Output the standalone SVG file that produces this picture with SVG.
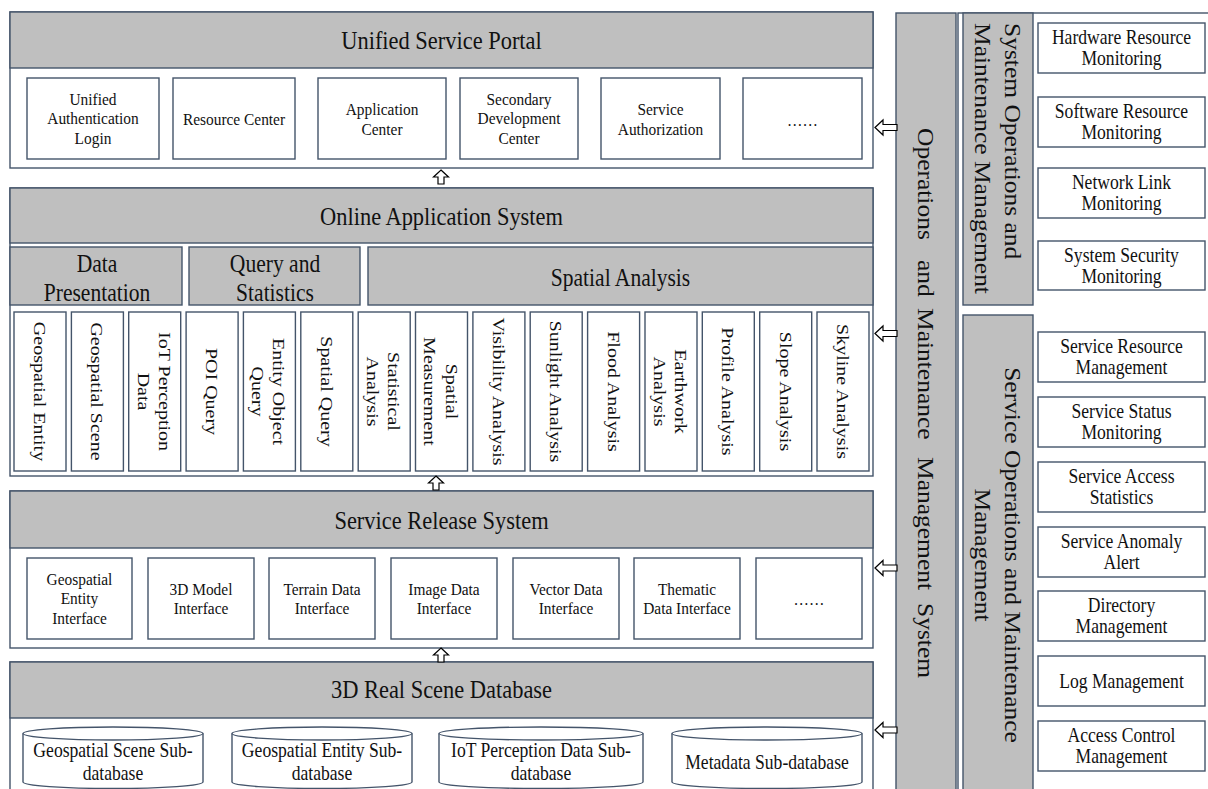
<svg xmlns="http://www.w3.org/2000/svg" width="1208" height="789" viewBox="0 0 1208 789">
<style>
  .box{fill:#fff;stroke:#44546a;stroke-width:1.4}
  .band{fill:#bfbfbf;stroke:#44546a;stroke-width:1.4}
  .arw{fill:#fff;stroke:#000;stroke-width:1.2}
  text{font-family:"Liberation Serif","Times New Roman",serif;fill:#111;text-anchor:middle}
  .hd{font-size:25.5px}
  .sh{font-size:24.5px}
  .bx{font-size:17.5px}
  .rb{font-size:20px}
  .vt{font-size:20px}
  .vb{font-size:25.5px}
  .v,.v tspan{dominant-baseline:central}
  .st{text-anchor:start}
</style>
<defs>
  <path id="upArrow" class="arw" d="M0,-7 L7.5,0 L3,0 L3,7 L-3,7 L-3,0 L-7.5,0 Z"/>
  <path id="leftArrow" class="arw" d="M-11,0 L-3,-7.5 L-3,-3 L11,-3 L11,3 L-3,3 L-3,7.5 Z"/>
</defs>
<rect width="1208" height="789" fill="#fff"/>

<!-- Unified Service Portal -->
<g id="unified-service-portal">
  <rect class="box" x="10" y="12" width="863" height="156"/>
  <rect class="band" x="10" y="12" width="863" height="56"/>
  <text class="hd" transform="matrix(0.88 0 0 1 441.5 48.5)">Unified Service Portal</text>
</g>
<g id="portal-auth-login">
  <rect class="box" x="27" y="78" width="132" height="81"/>
  <text class="bx" transform="matrix(0.88 0 0 1 93 104.5)"><tspan x="0">Unified</tspan><tspan x="0" dy="20">Authentication</tspan><tspan x="0" dy="20">Login</tspan></text>
</g>
<g id="portal-resource-center">
  <rect class="box" x="173" y="78" width="122" height="81"/>
  <text class="bx" transform="matrix(0.88 0 0 1 234 125)">Resource Center</text>
</g>
<g id="portal-application-center">
  <rect class="box" x="318" y="78" width="128" height="81"/>
  <text class="bx" transform="matrix(0.88 0 0 1 382 115)"><tspan x="0">Application</tspan><tspan x="0" dy="20">Center</tspan></text>
</g>
<g id="portal-secondary-dev">
  <rect class="box" x="460" y="78" width="118" height="81"/>
  <text class="bx" transform="matrix(0.88 0 0 1 519 104.5)"><tspan x="0">Secondary</tspan><tspan x="0" dy="20">Development</tspan><tspan x="0" dy="20">Center</tspan></text>
</g>
<g id="portal-service-auth">
  <rect class="box" x="601" y="78" width="119" height="81"/>
  <text class="bx" transform="matrix(0.88 0 0 1 660.5 115)"><tspan x="0">Service</tspan><tspan x="0" dy="20">Authorization</tspan></text>
</g>
<g id="portal-more">
  <rect class="box" x="743" y="78" width="119" height="81"/>
  <text class="bx" transform="matrix(0.88 0 0 1 802.5 126)">……</text>
</g>

<!-- Online Application System -->
<g id="online-application-system">
  <rect class="box" x="10" y="188" width="863" height="288"/>
  <rect class="band" x="10" y="188" width="863" height="55"/>
  <text class="hd" transform="matrix(0.88 0 0 1 441.5 225)">Online Application System</text>
</g>
<g id="data-presentation">
  <rect class="band" x="10" y="247" width="172" height="58"/>
  <text class="sh" transform="matrix(0.88 0 0 1 97 272)"><tspan x="0">Data</tspan><tspan x="0" dy="29.5">Presentation</tspan></text>
</g>
<g id="query-statistics">
  <rect class="band" x="189" y="247" width="171" height="58"/>
  <text class="sh" transform="matrix(0.88 0 0 1 275 272)"><tspan x="0">Query and</tspan><tspan x="0" dy="29.5">Statistics</tspan></text>
</g>
<g id="spatial-analysis">
  <rect class="band" x="368" y="247" width="505" height="58"/>
  <text class="sh" transform="matrix(0.88 0 0 1 620.5 286)">Spatial Analysis</text>
</g>

<g id="app-geospatial-entity">
  <rect class="box" x="14" y="312" width="52" height="159"/>
  <text class="vt v" transform="matrix(0 1 -0.88 0 40 391.5)">Geospatial Entity</text>
</g>
<g id="app-geospatial-scene">
  <rect class="box" x="71.4" y="312" width="52" height="159"/>
  <text class="vt v" transform="matrix(0 1 -0.88 0 97.4 391.5)">Geospatial Scene</text>
</g>
<g id="app-iot-data">
  <rect class="box" x="128.7" y="312" width="52" height="159"/>
  <text class="vt v" transform="matrix(0 1 -0.88 0 154.7 391.5)"><tspan x="0" y="-12">IoT Perception</tspan><tspan x="0" y="12">Data</tspan></text>
</g>
<g id="app-poi-query">
  <rect class="box" x="186.1" y="312" width="52" height="159"/>
  <text class="vt v" transform="matrix(0 1 -0.88 0 212.1 391.5)">POI Query</text>
</g>
<g id="app-entity-query">
  <rect class="box" x="243.4" y="312" width="52" height="159"/>
  <text class="vt v" transform="matrix(0 1 -0.88 0 269.4 391.5)"><tspan x="0" y="-12">Entity Object</tspan><tspan x="0" y="12">Query</tspan></text>
</g>
<g id="app-spatial-query">
  <rect class="box" x="300.8" y="312" width="52" height="159"/>
  <text class="vt v" transform="matrix(0 1 -0.88 0 326.8 391.5)">Spatial Query</text>
</g>
<g id="app-statistical-analysis">
  <rect class="box" x="358.2" y="312" width="52" height="159"/>
  <text class="vt v" transform="matrix(0 1 -0.88 0 384.2 391.5)"><tspan x="0" y="-12">Statistical</tspan><tspan x="0" y="12">Analysis</tspan></text>
</g>
<g id="app-spatial-measurement">
  <rect class="box" x="415.5" y="312" width="52" height="159"/>
  <text class="vt v" transform="matrix(0 1 -0.88 0 441.5 391.5)"><tspan x="0" y="-12">Spatial</tspan><tspan x="0" y="12">Measurement</tspan></text>
</g>
<g id="app-visibility">
  <rect class="box" x="472.9" y="312" width="52" height="159"/>
  <text class="vt v" transform="matrix(0 1 -0.88 0 498.9 391.5)">Visibility Analysis</text>
</g>
<g id="app-sunlight">
  <rect class="box" x="530.2" y="312" width="52" height="159"/>
  <text class="vt v" transform="matrix(0 1 -0.88 0 556.2 391.5)">Sunlight Analysis</text>
</g>
<g id="app-flood">
  <rect class="box" x="587.6" y="312" width="52" height="159"/>
  <text class="vt v" transform="matrix(0 1 -0.88 0 613.6 391.5)">Flood Analysis</text>
</g>
<g id="app-earthwork">
  <rect class="box" x="645" y="312" width="52" height="159"/>
  <text class="vt v" transform="matrix(0 1 -0.88 0 671 391.5)"><tspan x="0" y="-12">Earthwork</tspan><tspan x="0" y="12">Analysis</tspan></text>
</g>
<g id="app-profile">
  <rect class="box" x="702.3" y="312" width="52" height="159"/>
  <text class="vt v" transform="matrix(0 1 -0.88 0 728.3 391.5)">Profile Analysis</text>
</g>
<g id="app-slope">
  <rect class="box" x="759.7" y="312" width="52" height="159"/>
  <text class="vt v" transform="matrix(0 1 -0.88 0 785.7 391.5)">Slope Analysis</text>
</g>
<g id="app-skyline">
  <rect class="box" x="817" y="312" width="52" height="159"/>
  <text class="vt v" transform="matrix(0 1 -0.88 0 843 391.5)">Skyline Analysis</text>
</g>

<!-- Service Release System -->
<g id="service-release-system">
  <rect class="box" x="10" y="491" width="863" height="157"/>
  <rect class="band" x="10" y="491" width="863" height="57"/>
  <text class="hd" transform="matrix(0.88 0 0 1 441.5 529)">Service Release System</text>
</g>
<g id="rel-geospatial-entity">
  <rect class="box" x="27" y="558" width="105" height="81"/>
  <text class="bx" transform="matrix(0.88 0 0 1 79.5 584.5)"><tspan x="0">Geospatial</tspan><tspan x="0" dy="20">Entity</tspan><tspan x="0" dy="20">Interface</tspan></text>
</g>
<g id="rel-3d-model">
  <rect class="box" x="148" y="558" width="106" height="81"/>
  <text class="bx" transform="matrix(0.88 0 0 1 201 594.5)"><tspan x="0">3D Model</tspan><tspan x="0" dy="20">Interface</tspan></text>
</g>
<g id="rel-terrain">
  <rect class="box" x="269" y="558" width="106" height="81"/>
  <text class="bx" transform="matrix(0.88 0 0 1 322 594.5)"><tspan x="0">Terrain Data</tspan><tspan x="0" dy="20">Interface</tspan></text>
</g>
<g id="rel-image">
  <rect class="box" x="391" y="558" width="106" height="81"/>
  <text class="bx" transform="matrix(0.88 0 0 1 444 594.5)"><tspan x="0">Image Data</tspan><tspan x="0" dy="20">Interface</tspan></text>
</g>
<g id="rel-vector">
  <rect class="box" x="513" y="558" width="106" height="81"/>
  <text class="bx" transform="matrix(0.88 0 0 1 566 594.5)"><tspan x="0">Vector Data</tspan><tspan x="0" dy="20">Interface</tspan></text>
</g>
<g id="rel-thematic">
  <rect class="box" x="634" y="558" width="106" height="81"/>
  <text class="bx" transform="matrix(0.88 0 0 1 687 594.5)"><tspan x="0">Thematic</tspan><tspan x="0" dy="20">Data Interface</tspan></text>
</g>
<g id="rel-more">
  <rect class="box" x="756" y="558" width="106" height="81"/>
  <text class="bx" transform="matrix(0.88 0 0 1 809 605)">……</text>
</g>

<!-- 3D Real Scene Database -->
<g id="real-scene-database">
  <rect class="box" x="10" y="662" width="863" height="140"/>
  <rect class="band" x="10" y="662" width="863" height="56"/>
  <text class="hd" transform="matrix(0.88 0 0 1 441.5 698)">3D Real Scene Database</text>
</g>
<g id="db-geospatial-scene">
  <path class="box" d="M23,733.5 L23,782 A90,6.5 0 0 0 203,782 L203,733.5"/>
  <ellipse class="box" cx="113" cy="733.5" rx="90" ry="6.5"/>
  <text class="rb" transform="matrix(0.88 0 0 1 113 757)"><tspan x="0">Geospatial Scene Sub-</tspan><tspan x="0" dy="23">database</tspan></text>
</g>
<g id="db-geospatial-entity">
  <path class="box" d="M232,733.5 L232,782 A90,6.5 0 0 0 412,782 L412,733.5"/>
  <ellipse class="box" cx="322" cy="733.5" rx="90" ry="6.5"/>
  <text class="rb" transform="matrix(0.88 0 0 1 322 757)"><tspan x="0">Geospatial Entity Sub-</tspan><tspan x="0" dy="23">database</tspan></text>
</g>
<g id="db-iot-perception">
  <path class="box" d="M439,733.5 L439,782 A102,6.5 0 0 0 643,782 L643,733.5"/>
  <ellipse class="box" cx="541" cy="733.5" rx="102" ry="6.5"/>
  <text class="rb" transform="matrix(0.88 0 0 1 541 757)"><tspan x="0">IoT Perception Data Sub-</tspan><tspan x="0" dy="23">database</tspan></text>
</g>
<g id="db-metadata">
  <path class="box" d="M672,733.5 L672,782 A95,6.5 0 0 0 862,782 L862,733.5"/>
  <ellipse class="box" cx="767" cy="733.5" rx="95" ry="6.5"/>
  <text class="rb" transform="matrix(0.88 0 0 1 767 769)">Metadata Sub-database</text>
</g>

<!-- Operations and Maintenance Management System -->
<g id="ops-maintenance-system">
  <rect class="band" x="896" y="13" width="60" height="790"/>
  <text class="vb v st" transform="matrix(0 1 -0.88 0 925 0)"><tspan x="128">Operations</tspan><tspan x="260">and</tspan><tspan x="308">Maintenance</tspan><tspan x="457">Management</tspan><tspan x="603">System</tspan></text>
</g>
<g id="ops-panel">
  <rect class="box" x="958" y="13" width="260" height="790"/>
</g>
<g id="system-ops">
  <rect class="band" x="963" y="13" width="70" height="292"/>
  <text class="vb v st" transform="matrix(0 1 -0.88 0 997.5 0)"><tspan x="23" y="-17">System Operations and</tspan><tspan x="23" y="17">Maintenance Management</tspan></text>
</g>
<g id="service-ops">
  <rect class="band" x="963" y="315" width="70" height="490"/>
  <text class="vb v" transform="matrix(0 1 -0.88 0 997.5 555)"><tspan x="0" y="-17">Service Operations and Maintenance</tspan><tspan x="0" y="17">Management</tspan></text>
</g>

<g id="hardware-monitoring">
  <rect class="box" x="1038" y="23" width="167" height="50"/>
  <text class="rb" transform="matrix(0.88 0 0 1 1121.5 44)"><tspan x="0">Hardware Resource</tspan><tspan x="0" dy="21">Monitoring</tspan></text>
</g>
<g id="software-monitoring">
  <rect class="box" x="1038" y="97" width="167" height="50"/>
  <text class="rb" transform="matrix(0.88 0 0 1 1121.5 118)"><tspan x="0">Software Resource</tspan><tspan x="0" dy="21">Monitoring</tspan></text>
</g>
<g id="network-monitoring">
  <rect class="box" x="1038" y="168" width="167" height="50"/>
  <text class="rb" transform="matrix(0.88 0 0 1 1121.5 189)"><tspan x="0">Network Link</tspan><tspan x="0" dy="21">Monitoring</tspan></text>
</g>
<g id="security-monitoring">
  <rect class="box" x="1038" y="241" width="167" height="49"/>
  <text class="rb" transform="matrix(0.88 0 0 1 1121.5 262)"><tspan x="0">System Security</tspan><tspan x="0" dy="21">Monitoring</tspan></text>
</g>
<g id="service-resource-mgmt">
  <rect class="box" x="1038" y="332" width="167" height="50"/>
  <text class="rb" transform="matrix(0.88 0 0 1 1121.5 353)"><tspan x="0">Service Resource</tspan><tspan x="0" dy="21">Management</tspan></text>
</g>
<g id="service-status">
  <rect class="box" x="1038" y="397" width="167" height="50"/>
  <text class="rb" transform="matrix(0.88 0 0 1 1121.5 418)"><tspan x="0">Service Status</tspan><tspan x="0" dy="21">Monitoring</tspan></text>
</g>
<g id="service-access-stats">
  <rect class="box" x="1038" y="462" width="167" height="50"/>
  <text class="rb" transform="matrix(0.88 0 0 1 1121.5 483)"><tspan x="0">Service Access</tspan><tspan x="0" dy="21">Statistics</tspan></text>
</g>
<g id="service-anomaly">
  <rect class="box" x="1038" y="527" width="167" height="50"/>
  <text class="rb" transform="matrix(0.88 0 0 1 1121.5 548)"><tspan x="0">Service Anomaly</tspan><tspan x="0" dy="21">Alert</tspan></text>
</g>
<g id="directory-mgmt">
  <rect class="box" x="1038" y="591" width="167" height="50"/>
  <text class="rb" transform="matrix(0.88 0 0 1 1121.5 612)"><tspan x="0">Directory</tspan><tspan x="0" dy="21">Management</tspan></text>
</g>
<g id="log-mgmt">
  <rect class="box" x="1038" y="656" width="167" height="50"/>
  <text class="rb" transform="matrix(0.88 0 0 1 1121.5 688)">Log Management</text>
</g>
<g id="access-control-mgmt">
  <rect class="box" x="1038" y="721" width="167" height="50"/>
  <text class="rb" transform="matrix(0.88 0 0 1 1121.5 742)"><tspan x="0">Access Control</tspan><tspan x="0" dy="21">Management</tspan></text>
</g>

<!-- connectors: hollow block arrows -->
<g id="connectors">
  <use href="#upArrow" x="441" y="177"/>
  <use href="#upArrow" x="436" y="483"/>
  <use href="#upArrow" x="441" y="655"/>
  <use href="#leftArrow" x="886" y="127.5"/>
  <use href="#leftArrow" x="886" y="333.5"/>
  <use href="#leftArrow" x="886" y="568"/>
  <use href="#leftArrow" x="886" y="730"/>
</g>
</svg>
